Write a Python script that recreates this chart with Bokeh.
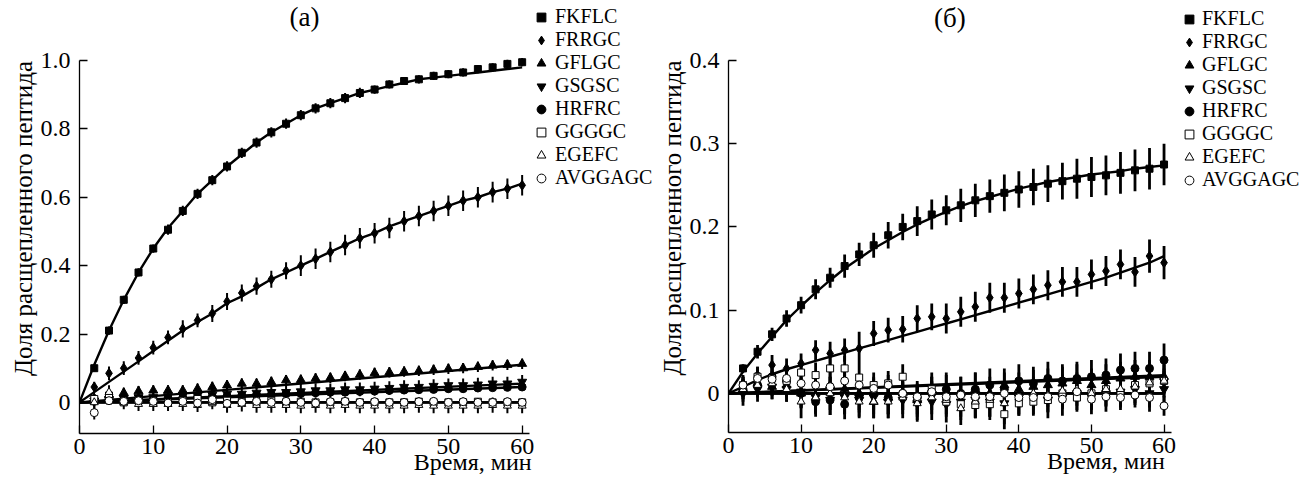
from bokeh.plotting import figure
from bokeh.models import (ColumnDataSource, FixedTicker, Legend, LegendItem, Label, Range1d, LinearAxis)
from bokeh.layouts import row
from bokeh.embed import file_html
from bokeh.resources import INLINE

FONT = "Liberation Serif"

# ---------------- data ----------------
time = [2, 4, 6, 8, 10, 12, 14, 16, 18, 20, 22, 24, 26, 28, 30,
        32, 34, 36, 38, 40, 42, 44, 46, 48, 50, 52, 54, 56, 58, 60]
fit_time = [0, 2, 4, 6, 8, 10, 12, 14, 16, 18, 20, 22, 24, 26, 28, 30,
            32, 34, 36, 38, 40, 42, 44, 46, 48, 50, 52, 54, 56, 58, 60]
lin_time = [0, 60]

names = ["FKFLC", "FRRGC", "GFLGC", "GSGSC", "HRFRC", "GGGGC", "EGEFC", "AVGGAGC"]

# panel (а)
a_FKFLC = [0.10, 0.21, 0.30, 0.38, 0.45, 0.505, 0.56, 0.61, 0.65, 0.69, 0.73, 0.76, 0.79, 0.815, 0.84,
           0.86, 0.875, 0.89, 0.905, 0.915, 0.93, 0.94, 0.945, 0.955, 0.96, 0.965, 0.975, 0.98, 0.99, 0.995]
a_FKFLC_err = [0.01, 0.012, 0.012, 0.012, 0.012, 0.015, 0.015, 0.015, 0.015, 0.015, 0.015, 0.015, 0.015, 0.015, 0.015,
               0.015, 0.015, 0.015, 0.015, 0.012, 0.012, 0.012, 0.012, 0.012, 0.012, 0.012, 0.012, 0.012, 0.012, 0.012]
a_FKFLC_fit = [0, 0.11, 0.21, 0.30, 0.38, 0.45, 0.51, 0.56, 0.61, 0.65, 0.69, 0.725, 0.76, 0.79, 0.815, 0.84,
               0.86, 0.875, 0.89, 0.905, 0.915, 0.925, 0.935, 0.945, 0.95, 0.955, 0.96, 0.965, 0.97, 0.975, 0.98]

a_FRRGC = [0.045, 0.085, 0.10, 0.13, 0.16, 0.19, 0.215, 0.24, 0.26, 0.295, 0.32, 0.34, 0.36, 0.385, 0.40,
           0.42, 0.44, 0.46, 0.48, 0.495, 0.51, 0.53, 0.545, 0.56, 0.575, 0.59, 0.60, 0.615, 0.625, 0.635]
a_FRRGC_err = [0.015, 0.02, 0.02, 0.02, 0.02, 0.02, 0.025, 0.02, 0.025, 0.025, 0.025, 0.025, 0.025, 0.025, 0.03,
               0.03, 0.03, 0.03, 0.03, 0.03, 0.03, 0.03, 0.03, 0.03, 0.03, 0.03, 0.03, 0.03, 0.03, 0.03]
a_FRRGC_fit = [0, 0.03, 0.06, 0.09, 0.12, 0.15, 0.18, 0.21, 0.235, 0.26, 0.29, 0.31, 0.335, 0.36, 0.38, 0.40,
               0.42, 0.44, 0.46, 0.48, 0.495, 0.515, 0.53, 0.545, 0.56, 0.575, 0.59, 0.60, 0.615, 0.625, 0.64]

a_GFLGC = [0.012, 0.02, 0.028, 0.033, 0.035, 0.035, 0.035, 0.04, 0.045, 0.05, 0.055, 0.055, 0.06, 0.065, 0.066,
           0.07, 0.072, 0.077, 0.081, 0.086, 0.088, 0.09, 0.092, 0.095, 0.098, 0.10, 0.104, 0.108, 0.11, 0.113]
a_GFLGC_err = [0.012, 0.015, 0.015, 0.015, 0.015, 0.015, 0.015, 0.015, 0.015, 0.015, 0.015, 0.015, 0.015, 0.015, 0.015,
               0.015, 0.015, 0.015, 0.015, 0.015, 0.015, 0.015, 0.015, 0.015, 0.015, 0.015, 0.015, 0.015, 0.015, 0.015]
a_GFLGC_fit = [0, 0.11]

a_GSGSC = [0.005, 0.01, 0.012, 0.015, 0.015, 0.018, 0.02, 0.02, 0.022, 0.025, 0.025, 0.028, 0.03, 0.03, 0.032,
           0.035, 0.035, 0.038, 0.038, 0.04, 0.042, 0.045, 0.045, 0.048, 0.05, 0.05, 0.052, 0.055, 0.055, 0.06]
a_GSGSC_err = [0.015, 0.018, 0.018, 0.018, 0.018, 0.018, 0.018, 0.018, 0.02, 0.02, 0.02, 0.02, 0.02, 0.02, 0.02,
               0.02, 0.02, 0.02, 0.02, 0.02, 0.02, 0.02, 0.02, 0.02, 0.02, 0.02, 0.02, 0.02, 0.02, 0.02]
a_GSGSC_fit = [0, 0.055]

a_HRFRC = [0.003, 0.005, 0.008, 0.01, 0.01, 0.012, 0.014, 0.015, 0.017, 0.018, 0.02, 0.022, 0.022, 0.025, 0.026,
           0.028, 0.03, 0.03, 0.032, 0.033, 0.035, 0.036, 0.037, 0.038, 0.04, 0.04, 0.042, 0.043, 0.044, 0.045]
a_HRFRC_err = [0.01, 0.01, 0.01, 0.01, 0.01, 0.01, 0.01, 0.01, 0.01, 0.01, 0.01, 0.01, 0.01, 0.01, 0.01,
               0.01, 0.01, 0.01, 0.01, 0.01, 0.01, 0.01, 0.01, 0.01, 0.01, 0.01, 0.01, 0.01, 0.01, 0.01]
a_HRFRC_fit = [0, 0.045]

a_GGGGC = [0.01, 0.02, 0.0, 0.005, 0.0, 0.0, 0.005, 0.01, 0.0, 0.005, 0.002, 0.0, 0.005, 0.0, 0.002,
           0.0, 0.0, 0.002, 0.0, 0.0, 0.0, 0.0, 0.002, 0.0, 0.0, 0.0, 0.002, 0.0, 0.0, 0.0]
a_GGGGC_err = [0.012, 0.012, 0.01, 0.01, 0.01, 0.01, 0.01, 0.01, 0.01, 0.01, 0.01, 0.01, 0.01, 0.01, 0.01,
               0.01, 0.01, 0.01, 0.01, 0.01, 0.01, 0.01, 0.01, 0.01, 0.01, 0.01, 0.01, 0.01, 0.01, 0.01]
a_GGGGC_fit = [0, 0.0]

a_EGEFC = [0.0, 0.03, 0.0, -0.005, -0.005, -0.005, -0.005, -0.008, 0.0, -0.008, -0.005, -0.008, -0.008, -0.008, -0.01,
           -0.008, -0.01, -0.008, -0.01, -0.01, -0.01, -0.01, -0.008, -0.01, -0.01, -0.01, -0.01, -0.008, -0.01, -0.01]
a_EGEFC_err = [0.02, 0.02, 0.02, 0.02, 0.02, 0.02, 0.02, 0.02, 0.02, 0.022, 0.022, 0.022, 0.022, 0.022, 0.022,
               0.022, 0.022, 0.022, 0.022, 0.022, 0.022, 0.022, 0.022, 0.022, 0.022, 0.022, 0.022, 0.022, 0.022, 0.022]
a_EGEFC_fit = [0, 0.0]

a_AVGGAGC = [-0.03, 0.005, 0.003, 0.005, 0.003, -0.002, 0.003, -0.002, 0.008, -0.003, 0.0, 0.003, 0.0, 0.003, 0.0,
             -0.002, 0.002, 0.003, 0.0, 0.002, 0.0, 0.0, 0.002, 0.003, 0.0, 0.002, 0.0, 0.0, 0.002, 0.0]
a_AVGGAGC_err = [0.02, 0.012, 0.012, 0.012, 0.012, 0.012, 0.012, 0.012, 0.012, 0.012, 0.012, 0.012, 0.012, 0.012, 0.012,
                 0.012, 0.012, 0.012, 0.012, 0.012, 0.012, 0.012, 0.012, 0.012, 0.012, 0.012, 0.012, 0.012, 0.012, 0.012]
a_AVGGAGC_fit = [0, 0.0]

# panel (б)
b_FKFLC = [0.03, 0.05, 0.071, 0.09, 0.106, 0.125, 0.139, 0.153, 0.167, 0.178, 0.19, 0.20, 0.207, 0.215, 0.22,
           0.226, 0.232, 0.237, 0.241, 0.245, 0.248, 0.252, 0.255, 0.258, 0.26, 0.262, 0.265, 0.268, 0.27, 0.275]
b_FKFLC_err = [0.005, 0.008, 0.008, 0.01, 0.01, 0.012, 0.012, 0.014, 0.014, 0.015, 0.016, 0.016, 0.018, 0.018, 0.018,
               0.02, 0.02, 0.02, 0.022, 0.022, 0.022, 0.022, 0.022, 0.024, 0.024, 0.024, 0.025, 0.025, 0.025, 0.025]
b_FKFLC_fit = [0, 0.026, 0.048, 0.068, 0.088, 0.105, 0.121, 0.136, 0.15, 0.162, 0.174, 0.184, 0.194, 0.203, 0.211, 0.218,
               0.225, 0.231, 0.236, 0.241, 0.246, 0.25, 0.254, 0.257, 0.26, 0.263, 0.265, 0.267, 0.27, 0.272, 0.274]

b_FRRGC = [0.012, 0.022, 0.034, 0.03, 0.036, 0.052, 0.048, 0.052, 0.054, 0.072, 0.076, 0.077, 0.09, 0.092, 0.09,
           0.098, 0.104, 0.115, 0.115, 0.12, 0.125, 0.13, 0.134, 0.134, 0.143, 0.147, 0.155, 0.146, 0.165, 0.157]
b_FRRGC_err = [0.01, 0.01, 0.012, 0.012, 0.012, 0.012, 0.014, 0.014, 0.02, 0.015, 0.015, 0.016, 0.016, 0.016, 0.018,
               0.018, 0.018, 0.018, 0.018, 0.018, 0.018, 0.018, 0.018, 0.018, 0.018, 0.018, 0.018, 0.018, 0.02, 0.02]
b_FRRGC_fit = [0, 0.008, 0.016, 0.023, 0.029, 0.034, 0.039, 0.044, 0.049, 0.054, 0.059, 0.064, 0.069, 0.074, 0.079, 0.084,
               0.089, 0.094, 0.099, 0.104, 0.109, 0.114, 0.119, 0.124, 0.129, 0.134, 0.139, 0.145, 0.151, 0.157, 0.165]

b_GFLGC = [0.005, 0.012, 0.008, 0.01, 0.0, -0.005, 0.01, 0.005, 0.0, -0.01, -0.005, 0.0, -0.008, 0.005, 0.002,
           0.0, 0.005, 0.0, 0.01, 0.005, 0.008, 0.01, 0.012, 0.015, 0.01, 0.015, 0.018, 0.02, 0.02, 0.02]
b_GFLGC_err = [0.012, 0.015, 0.015, 0.015, 0.018, 0.018, 0.018, 0.02, 0.02, 0.02, 0.02, 0.02, 0.02, 0.02, 0.02,
               0.02, 0.02, 0.02, 0.02, 0.02, 0.02, 0.02, 0.02, 0.02, 0.02, 0.02, 0.02, 0.02, 0.02, 0.02]
b_GFLGC_fit = [0, 0.022]

b_GSGSC = [0.0, 0.005, 0.008, 0.005, 0.002, -0.005, -0.008, -0.005, -0.008, -0.005, -0.01, -0.008, -0.012, -0.01, -0.013,
           -0.01, -0.008, -0.01, -0.012, -0.005, -0.005, -0.008, -0.005, 0.0, -0.003, 0.0, 0.002, 0.005, 0.0, 0.005]
b_GSGSC_err = [0.015, 0.015, 0.015, 0.015, 0.018, 0.018, 0.018, 0.02, 0.02, 0.02, 0.02, 0.022, 0.022, 0.022, 0.022,
               0.022, 0.022, 0.022, 0.025, 0.022, 0.022, 0.022, 0.022, 0.022, 0.022, 0.022, 0.022, 0.022, 0.022, 0.022]
b_GSGSC_fit = [0, 0.0]

b_HRFRC = [0.005, 0.01, 0.02, 0.015, 0.0, -0.01, -0.008, -0.013, -0.005, 0.0, -0.005, 0.0, -0.005, 0.0, 0.005,
           0.0, 0.005, 0.01, 0.005, 0.015, 0.012, 0.018, 0.015, 0.018, 0.02, 0.022, 0.028, 0.03, 0.03, 0.04]
b_HRFRC_err = [0.015, 0.015, 0.018, 0.018, 0.018, 0.018, 0.018, 0.018, 0.018, 0.02, 0.02, 0.02, 0.02, 0.02, 0.02,
               0.02, 0.02, 0.02, 0.02, 0.02, 0.02, 0.02, 0.02, 0.02, 0.02, 0.02, 0.02, 0.02, 0.02, 0.02]
b_HRFRC_fit = [0, 0.02]

b_GGGGC = [0.01, 0.02, 0.018, 0.015, 0.025, 0.022, 0.03, 0.03, 0.019, 0.01, 0.012, 0.02, -0.005, 0.005, -0.01,
           -0.013, -0.014, -0.013, -0.025, -0.012, -0.01, -0.008, 0.0, -0.005, 0.0, 0.005, 0.0, 0.01, 0.012, 0.015]
b_GGGGC_err = [0.01, 0.012, 0.012, 0.012, 0.012, 0.015, 0.015, 0.015, 0.015, 0.015, 0.015, 0.015, 0.015, 0.015, 0.015,
               0.015, 0.015, 0.015, 0.018, 0.015, 0.015, 0.015, 0.015, 0.015, 0.015, 0.015, 0.015, 0.015, 0.015, 0.015]
b_GGGGC_fit = [0, 0.0]

b_EGEFC = [0.005, 0.01, 0.012, 0.005, -0.01, -0.005, 0.0, -0.005, -0.01, -0.01, -0.01, -0.005, -0.012, -0.005, -0.008,
           -0.018, -0.01, -0.008, -0.012, -0.005, 0.0, -0.002, 0.003, 0.005, 0.0, 0.005, 0.005, 0.008, 0.013, 0.015]
b_EGEFC_err = [0.012, 0.012, 0.015, 0.015, 0.02, 0.02, 0.02, 0.02, 0.02, 0.02, 0.02, 0.02, 0.02, 0.02, 0.02,
               0.02, 0.02, 0.02, 0.02, 0.02, 0.02, 0.02, 0.02, 0.02, 0.02, 0.02, 0.02, 0.02, 0.02, 0.02]
b_EGEFC_fit = [0, 0.0]

b_AVGGAGC = [0.01, 0.018, 0.017, 0.018, 0.012, 0.01, 0.008, 0.015, 0.01, 0.006, 0.01, 0.0, -0.004, 0.002, -0.004,
             -0.002, -0.004, -0.004, 0.0, -0.005, -0.005, -0.004, -0.007, 0.002, -0.007, -0.004, -0.005, -0.002, -0.005, -0.015]
b_AVGGAGC_err = [0.01, 0.012, 0.012, 0.012, 0.012, 0.012, 0.012, 0.012, 0.012, 0.012, 0.012, 0.012, 0.012, 0.012, 0.012,
                 0.012, 0.012, 0.012, 0.012, 0.012, 0.012, 0.012, 0.012, 0.012, 0.012, 0.012, 0.012, 0.012, 0.012, 0.012]
b_AVGGAGC_fit = [0, 0.0]

a_series = [
    (a_FKFLC, a_FKFLC_err, fit_time, a_FKFLC_fit),
    (a_FRRGC, a_FRRGC_err, fit_time, a_FRRGC_fit),
    (a_GFLGC, a_GFLGC_err, lin_time, a_GFLGC_fit),
    (a_GSGSC, a_GSGSC_err, lin_time, a_GSGSC_fit),
    (a_HRFRC, a_HRFRC_err, lin_time, a_HRFRC_fit),
    (a_GGGGC, a_GGGGC_err, lin_time, a_GGGGC_fit),
    (a_EGEFC, a_EGEFC_err, lin_time, a_EGEFC_fit),
    (a_AVGGAGC, a_AVGGAGC_err, lin_time, a_AVGGAGC_fit),
]
b_series = [
    (b_FKFLC, b_FKFLC_err, fit_time, b_FKFLC_fit),
    (b_FRRGC, b_FRRGC_err, fit_time, b_FRRGC_fit),
    (b_GFLGC, b_GFLGC_err, lin_time, b_GFLGC_fit),
    (b_GSGSC, b_GSGSC_err, lin_time, b_GSGSC_fit),
    (b_HRFRC, b_HRFRC_err, lin_time, b_HRFRC_fit),
    (b_GGGGC, b_GGGGC_err, lin_time, b_GGGGC_fit),
    (b_EGEFC, b_EGEFC_err, lin_time, b_EGEFC_fit),
    (b_AVGGAGC, b_AVGGAGC_err, lin_time, b_AVGGAGC_fit),
]

a_yticks = [0, 0.2, 0.4, 0.6, 0.8, 1.0]
a_ylabels = ["0", "0.2", "0.4", "0.6", "0.8", "1.0"]
b_yticks = [0, 0.1, 0.2, 0.3, 0.4]
b_ylabels = ["0", "0.1", "0.2", "0.3", "0.4"]
xticks = [0, 10, 20, 30, 40, 50, 60]
x_label = "Время, мин"
y_label = "Доля расщепленного пептида"

# ---------------- styles ----------------
MARKERS = ["square", "diamond", "triangle", "inverted_triangle", "circle", "square", "triangle", "circle"]
FILLS = ["black", "black", "black", "black", "black", "white", "white", "white"]
SIZES = [7, 10, 9, 9, 8, 7, 8, 8]


def make_panel(series, title, yticks, ylabels, ybot, ytop_axis, ytop_frame, x_end, frame_w, frame_h,
               b_left, b_bottom, err_w, leg_x, leg_y, leg_standoff, title_px, cap_x):
    p = figure(width=b_left + frame_w, height=3 + frame_h + b_bottom,
               frame_width=frame_w, frame_height=frame_h,
               x_range=Range1d(0, x_end), y_range=Range1d(ybot, ytop_frame),
               output_backend="svg", toolbar_location=None, title=None,
               min_border_left=b_left, min_border_right=0,
               min_border_top=3, min_border_bottom=b_bottom)
    p.outline_line_color = None
    p.xgrid.visible = False
    p.ygrid.visible = False
    p.background_fill_color = "white"
    p.border_fill_color = "white"

    for ax in (p.xaxis[0], p.yaxis[0]):
        ax.major_tick_in = 8
        ax.major_tick_out = 0
        ax.minor_tick_line_color = None
        ax.axis_line_width = 1.3
        ax.major_tick_line_width = 1.3
        ax.major_label_text_font = FONT
        ax.major_label_text_font_size = "24px"
        ax.major_label_text_color = "black"
        ax.axis_line_color = "black"
        ax.major_tick_line_color = "black"

    xa = p.xaxis[0]
    ya = p.yaxis[0]
    xa.ticker = FixedTicker(ticks=xticks)
    xa.bounds = (0, 61)
    xa.major_label_standoff = 5
    ya.ticker = FixedTicker(ticks=yticks)
    ya.bounds = (ybot, ytop_axis)
    ya.major_label_overrides = {t: s for t, s in zip(yticks, ylabels)}
    ya.major_label_standoff = 9
    ya.axis_label = y_label
    ya.axis_label_text_font = FONT
    ya.axis_label_text_font_size = "25px"
    ya.axis_label_text_font_style = "normal"
    ya.axis_label_text_color = "black"
    ya.axis_label_standoff = 1

    # caption axis: carries only the x caption, placed under the tick labels
    cap = LinearAxis(ticker=FixedTicker(ticks=[cap_x]), major_label_overrides={cap_x: x_label},
                     axis_line_color=None, major_tick_line_color=None, minor_tick_line_color=None,
                     major_tick_in=0, major_tick_out=0,
                     major_label_text_font=FONT, major_label_text_font_size="24px",
                     major_label_text_color="black", major_label_standoff=-8)
    p.add_layout(cap, "below")

    items = []
    scat = []
    for i, (vals, errs, ft, fv) in enumerate(series):
        src = ColumnDataSource(dict(t=time, y=vals,
                                    lo=[v - e for v, e in zip(vals, errs)],
                                    hi=[v + e for v, e in zip(vals, errs)]))
        p.segment(x0="t", y0="lo", x1="t", y1="hi", source=src, line_color="black", line_width=err_w)
        p.line(ft, fv, line_color="black", line_width=2.4)
        scat.append((src, i))
    for src, i in scat:
        r = p.scatter(x="t", y="y", source=src, marker=MARKERS[i], size=SIZES[i],
                      fill_color=FILLS[i], line_color="black", line_width=1)
        items.append(LegendItem(label=names[i], renderers=[r]))

    leg = Legend(items=items, location=(leg_x, leg_y), border_line_color=None,
                 background_fill_alpha=0, padding=0, margin=0, spacing=0,
                 glyph_width=22, glyph_height=22, label_height=22, label_standoff=leg_standoff,
                 label_text_font=FONT, label_text_font_size="20px", label_text_color="black")
    p.add_layout(leg, "center")

    ppu = frame_h / (ytop_frame - ybot)
    p.add_layout(Label(x=30.5, y=ytop_axis + title_px / ppu,
                       text=title, text_align="center", text_baseline="middle",
                       text_font=FONT, text_font_size="27px", text_color="black"))
    return p


pa = make_panel(a_series, "(а)", a_yticks, a_ylabels, -0.091, 1.0, 1.1667, 77.94, 575, 430,
                79, 51, 2.0, 451, 244, 3, 43, 53.3)
pb = make_panel(b_series, "(б)", b_yticks, b_ylabels, -0.047, 0.4, 0.4685, 78.8, 572, 429,
                74, 52, 2.8, 450, 241, 2, 43, 52.0)

layout = row(pa, pb)
open("out.html", "w").write(file_html(layout, INLINE))
